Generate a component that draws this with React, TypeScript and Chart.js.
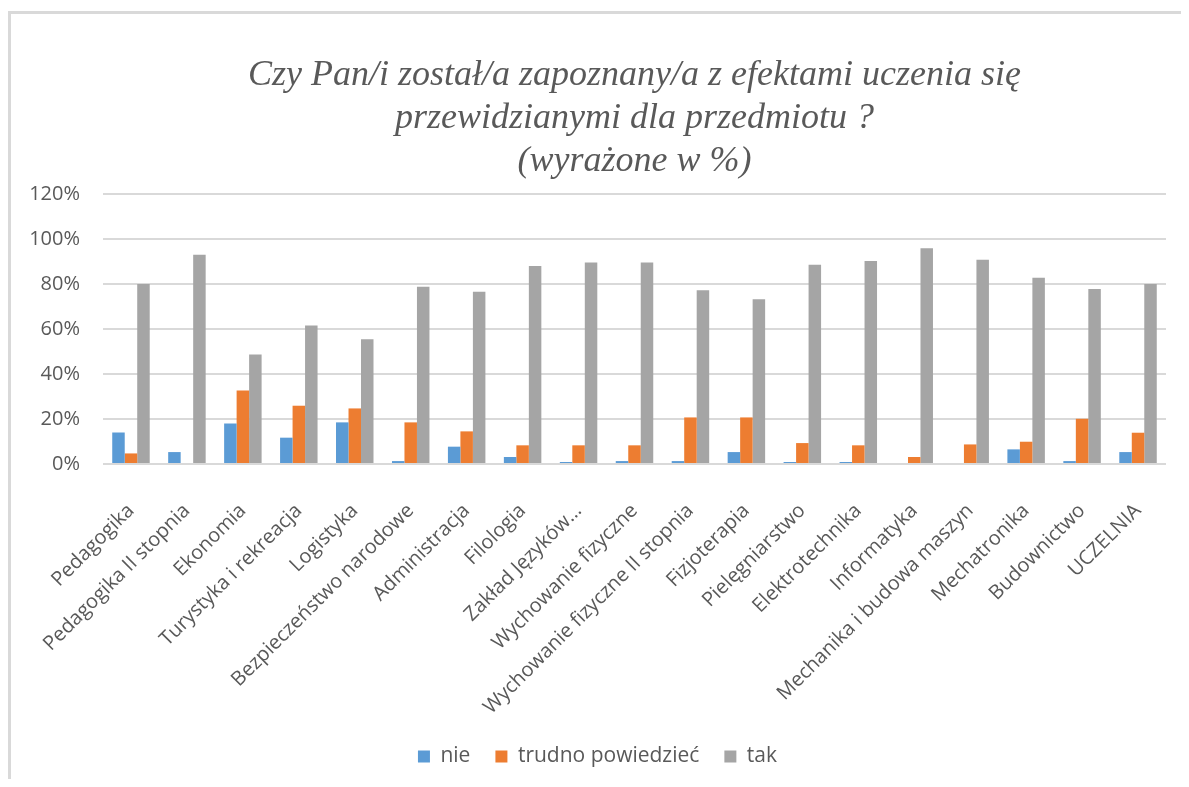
import React, { useEffect, useRef } from "react";
import { Chart, registerables } from "chart.js";

Chart.register(...registerables);

const categories = [
  "Pedagogika",
  "Pedagogika II stopnia",
  "Ekonomia",
  "Turystyka i rekreacja",
  "Logistyka",
  "Bezpieczeństwo narodowe",
  "Administracja",
  "Filologia",
  "Zakład Języków…",
  "Wychowanie fizyczne",
  "Wychowanie fizyczne II stopnia",
  "Fizjoterapia",
  "Pielęgniarstwo",
  "Elektrotechnika",
  "Informatyka",
  "Mechanika i budowa maszyn",
  "Mechatronika",
  "Budownictwo",
  "UCZELNIA",
];

const nieValues = [14, 5.3, 18, 11.7, 18.5, 1.3, 7.7, 3.1, 0.9, 1.3, 1.3, 5.3, 0.9, 0.9, 0, 0, 6.5, 1.3, 5.3];
const trudnoValues = [4.7, 0, 32.7, 25.9, 24.7, 18.5, 14.5, 8.3, 8.3, 8.3, 20.7, 20.7, 9.3, 8.3, 3.1, 8.7, 9.9, 20.1, 13.9];
const takValues = [80, 93, 48.7, 61.6, 55.4, 78.8, 76.6, 88, 89.6, 89.6, 77.2, 73.2, 88.6, 90.2, 95.9, 90.8, 82.8, 77.8, 80];

const seriesNames = ["nie", "trudno powiedzieć", "tak"];
const titleLines = [
  "Czy Pan/i został/a zapoznany/a z efektami uczenia się",
  "przewidzianymi dla przedmiotu ?",
  "(wyrażone w %)",
];
const yMin = 0;
const yMax = 120;
const yStep = 20;

const textColor = "#595959";
const sansFont = "'Open Sans', 'DejaVu Sans', sans-serif";

export default function App() {
  const canvasRef = useRef<HTMLCanvasElement>(null);

  useEffect(() => {
    const canvas = canvasRef.current;
    if (!canvas) return;
    const chart = new Chart(canvas, {
      type: "bar",
      data: {
        labels: categories,
        datasets: [
          { label: seriesNames[0], data: nieValues, backgroundColor: "#5B9BD5", borderWidth: 0 },
          { label: seriesNames[1], data: trudnoValues, backgroundColor: "#ED7D31", borderWidth: 0 },
          { label: seriesNames[2], data: takValues, backgroundColor: "#A5A5A5", borderWidth: 0 },
        ],
      },
      options: {
        responsive: false,
        animation: false,
        events: [],
        datasets: {
          bar: { categoryPercentage: 0.67, barPercentage: 1 },
        },
        layout: { padding: { left: 18, right: 15, top: 0, bottom: 2 } },
        plugins: {
          tooltip: { enabled: false },
          title: {
            display: true,
            text: titleLines,
            fullSize: false,
            color: textColor,
            font: { family: "'Liberation Serif', 'Times New Roman', serif", style: "italic", size: 36, lineHeight: 43 / 36, weight: "normal" },
            padding: { top: 40, bottom: 11 },
          },
          legend: {
            position: "bottom",
            labels: {
              boxWidth: 12,
              boxHeight: 12,
              padding: 25,
              color: textColor,
              font: { family: sansFont, size: 21 },
            },
          },
        },
        scales: {
          x: {
            grid: { display: false },
            border: { display: false },
            ticks: {
              autoSkip: false,
              maxRotation: 45,
              minRotation: 45,
              padding: 27,
              color: textColor,
              font: { family: sansFont, size: 20 },
            },
            afterFit: (scale: any) => {
              scale.height = 257;
              scale.paddingLeft = 0;
              scale.paddingRight = 0;
            },
          },
          y: {
            min: yMin,
            max: yMax,
            grid: { color: "#d9d9d9", lineWidth: 2, drawTicks: false },
            border: { display: false },
            ticks: {
              stepSize: yStep,
              padding: 23,
              color: textColor,
              font: { family: sansFont, size: 20 },
              callback: (v: any) => `${v}%`,
            },
            afterFit: (scale: any) => {
              scale.width = 74;
            },
          },
        },
      },
    });
    return () => chart.destroy();
  }, []);

  return (
    <div style={{ paddingTop: 3 }}>
      <div
        style={{
          width: 1170,
          height: 765,
          borderLeft: "3px solid #d9d9d9",
          borderTop: "3px solid #d9d9d9",
          background: "#ffffff",
        }}
      >
        <canvas ref={canvasRef} width={1170} height={765} style={{ display: "block" }} />
      </div>
    </div>
  );
}
